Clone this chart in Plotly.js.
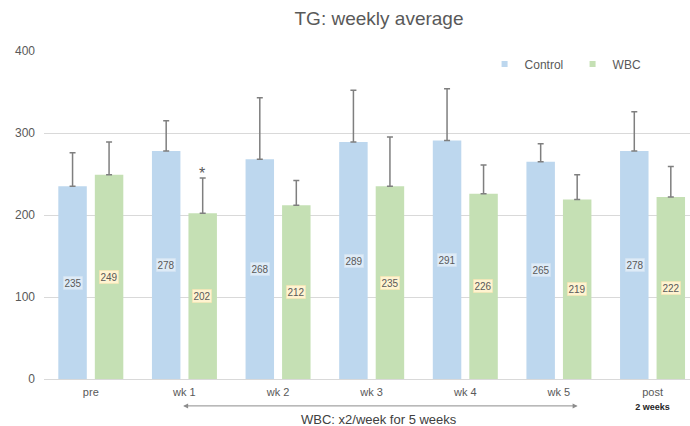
<!DOCTYPE html>
<html>
<head>
<meta charset="utf-8">
<script src="https://cdn.plot.ly/plotly-3.0.1.min.js"></script>
<style>html,body{margin:0;padding:0;background:#fff;}#chart{width:690px;height:426px;}</style>
</head>
<body>
<div id="chart"></div>
<script>
var categories = ["pre", "wk 1", "wk 2", "wk 3", "wk 4", "wk 5", "post"];
var tickLabels = ["pre", "wk 1", "wk 2", "wk 3", "wk 4", "wk 5", "post<br><span style='font-size:9px;color:#262626'><b>2 weeks</b></span>"];
var controlValues = [235, 278, 268, 289, 291, 265, 278];
var wbcValues = [249, 202, 212, 235, 226, 219, 222];
var controlErr = [41, 37, 75, 63, 63, 22, 48];
var wbcErr = [40, 43, 30, 60, 35, 30, 37];
var zeros = [0, 0, 0, 0, 0, 0, 0];
var sigIndex = 1;

var blue = '#bdd7ee', green = '#c5e0b4';
var errStyle = function (arr) {
  return {type: 'data', array: arr, arrayminus: zeros, symmetric: false, color: '#7f7f7f', thickness: 1.5, width: 3};
};

var traces = [
  {type: 'bar', name: 'Control', x: categories, y: controlValues, marker: {color: blue}, error_y: errStyle(controlErr), showlegend: false, hoverinfo: 'skip'},
  {type: 'bar', name: 'WBC', x: categories, y: wbcValues, marker: {color: green}, error_y: errStyle(wbcErr), showlegend: false, hoverinfo: 'skip'},
  {type: 'scatter', mode: 'markers', name: 'Control', x: [null], y: [null], marker: {symbol: 'square', size: 6, color: blue}},
  {type: 'scatter', mode: 'markers', name: 'WBC', x: [null], y: [null], marker: {symbol: 'square', size: 6, color: green}}
];

var annotations = [];
categories.forEach(function (c, i) {
  annotations.push({x: c, y: controlValues[i] / 2, xref: 'x', yref: 'y', text: String(controlValues[i]), showarrow: false,
    xshift: -18, font: {family: 'Liberation Sans, Arial, sans-serif', size: 10, color: '#595959'},
    bgcolor: '#deebf7', bordercolor: '#cddff0', borderwidth: 0.5, borderpad: 1});
  annotations.push({x: c, y: wbcValues[i] / 2, xref: 'x', yref: 'y', text: String(wbcValues[i]), showarrow: false,
    xshift: 18, font: {family: 'Liberation Sans, Arial, sans-serif', size: 10, color: '#595959'},
    bgcolor: '#fff3d0', bordercolor: '#efe0a8', borderwidth: 0.5, borderpad: 1});
});
annotations.push({x: categories[sigIndex], y: wbcValues[sigIndex] + wbcErr[sigIndex], xref: 'x', yref: 'y', text: '*', showarrow: false,
  xshift: 18, yanchor: 'bottom', yshift: -6, font: {family: 'Liberation Sans, Arial, sans-serif', size: 16, color: '#595959'}});
annotations.push({x: 5.2, y: -0.082, xref: 'x', yref: 'paper', ax: 0.97, ay: 0, axref: 'x', ayref: 'pixel', text: '',
  showarrow: true, arrowside: 'end+start', arrowhead: 2, arrowsize: 1, arrowwidth: 1, arrowcolor: '#8c8c8c'});
annotations.push({x: (379 - 44) / 646, y: -40 / 328, xref: 'paper', yref: 'paper', xanchor: 'center', yanchor: 'middle', text: 'WBC: x2/week for 5 weeks',
  showarrow: false, font: {family: 'Liberation Sans, Arial, sans-serif', size: 13, color: '#404040'}});

var layout = {
  width: 690, height: 426,
  margin: {l: 44, r: 0, t: 51, b: 47, pad: 0},
  paper_bgcolor: '#ffffff', plot_bgcolor: '#ffffff',
  font: {family: 'Liberation Sans, Arial, sans-serif', color: '#595959', size: 12},
  title: {text: 'TG: weekly average', x: 379 / 690, xanchor: 'center', y: 1 - 18 / 426, yanchor: 'middle', xref: 'container', yref: 'container',
    font: {family: 'Liberation Sans, Arial, sans-serif', size: 19, color: '#595959'}},
  barmode: 'group', bargap: 0.22, bargroupgap: 0.22,
  xaxis: {type: 'category', range: [-0.5, 6.4], tickvals: categories, ticktext: tickLabels, showgrid: false, zeroline: false, showline: false,
    ticks: '', ticklabelstandoff: 5, tickfont: {size: 11, color: '#595959'}, fixedrange: true},
  yaxis: {range: [0, 400], tickvals: [0, 100, 200, 300, 400], showgrid: true, gridcolor: '#d9d9d9', gridwidth: 1, zeroline: true,
    zerolinecolor: '#d9d9d9', zerolinewidth: 1, showline: false, ticks: '', ticklabelstandoff: 8, tickfont: {size: 12, color: '#595959'}, fixedrange: true},
  legend: {orientation: 'h', x: 0.682, xanchor: 'left', y: 0.96, yanchor: 'middle', bgcolor: 'rgba(0,0,0,0)', font: {size: 12, color: '#595959'},
    entrywidth: 43, entrywidthmode: 'pixels'},
  annotations: annotations
};

Plotly.newPlot('chart', traces, layout, {displayModeBar: false, staticPlot: true});
</script>
</body>
</html>
